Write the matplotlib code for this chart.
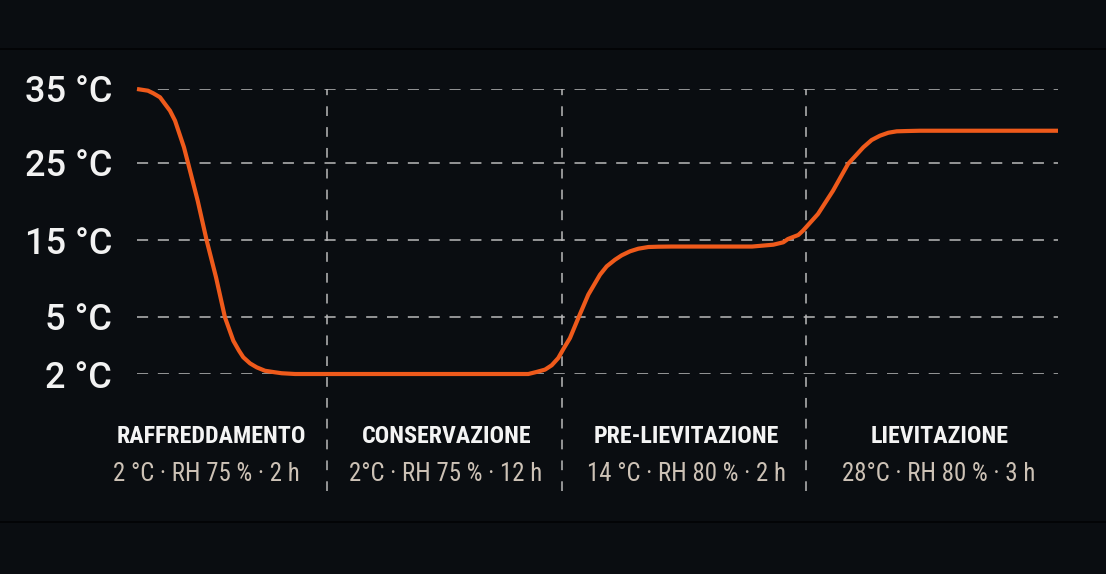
import numpy as np
import matplotlib
matplotlib.use("Agg")
import matplotlib.pyplot as plt
from matplotlib.lines import Line2D
from matplotlib import font_manager as fm

# ---------------- data ----------------
tick_temps = [2, 5, 15, 25, 35]
tick_labels = ["2 °C", "5 °C", "15 °C", "25 °C", "35 °C"]
# visual position of each tick on the (non-linear) temperature axis
tick_pos = [0, 57, 134, 211, 285]

# curve (x = % of timeline, y = °C)
curve_x = [0.0, 1.19, 1.77, 2.50, 3.04, 3.58, 4.13, 5.10, 5.57, 6.59, 7.57,
           8.58, 9.55, 10.46, 11.07, 11.54, 12.27, 13.00, 13.90, 14.98,
           15.71, 17.16,
           42.49, 43.40, 44.30, 45.03, 45.74, 46.29, 47.01, 47.92, 49.00,
           50.27, 51.00, 51.90, 52.63, 53.53, 54.43, 55.52, 56.60, 58.06,
           66.78, 69.09, 70.17, 70.68, 71.80, 72.31, 73.94, 75.57, 77.20,
           78.86, 79.77, 80.67, 81.58, 82.49, 83.57, 85.02, 100.0]
curve_t = [35.0, 34.77, 34.42, 33.88, 32.97, 32.07, 30.72, 27.12, 24.87,
           20.10, 14.91, 10.16, 4.98, 3.75, 3.23, 2.88, 2.56, 2.35, 2.17,
           2.09, 2.04, 2.0,
           2.0, 2.11, 2.23, 2.46, 2.84, 3.31, 3.89, 4.95, 7.90,
           10.49, 11.58, 12.44, 13.01, 13.53, 13.87, 14.09, 14.13, 14.15,
           14.15, 14.39, 14.70, 15.13, 15.65, 16.21, 18.38, 21.40, 24.87,
           27.12, 28.11, 28.69, 29.09, 29.28, 29.32, 29.36, 29.36]

phase_bounds = [20.63, 46.15, 72.64]
phase_names = ["RAFFREDDAMENTO", "CONSERVAZIONE", "PRE-LIEVITAZIONE", "LIEVITAZIONE"]
phase_info = ["2 °C · RH 75 % · 2 h", "2°C · RH 75 % · 12 h",
              "14 °C · RH 80 % · 2 h", "28°C · RH 80 % · 3 h"]
title_x = [8.09, 33.66, 59.66, 87.19]
info_x = [7.55, 33.55, 59.66, 87.02]

# ---------------- style ----------------
BG = "#0a0d11"
ORANGE = "#ef5a1b"
GRID = "#b9b9b9"
plt.rcParams["lines.scale_dashes"] = False


def pick_font(bold):
    prefs = ["Liberation Sans Narrow", "Roboto Condensed", "Open Sans Condensed"]
    for name in prefs:
        for f in fm.fontManager.ttflist:
            if f.name == name:
                w = f.weight if isinstance(f.weight, int) else (700 if "bold" in str(f.weight).lower() else 400)
                if (w >= 600) == bold and f.style == "normal":
                    return fm.FontProperties(fname=f.fname)
    return fm.FontProperties(family=["Roboto", "DejaVu Sans"],
                             weight="bold" if bold else "normal")


W, H = 1106, 574
fig = plt.figure(figsize=(W / 100, H / 100), dpi=100, facecolor=BG)

left, right = 137 / W, 1058 / W
top, bottom = 1 - 89 / H, 1 - 374 / H
ax = fig.add_axes([left, bottom, right - left, top - bottom])
ax.set_facecolor(BG)


def fwd(t):
    return np.interp(t, tick_temps, tick_pos)


def inv(p):
    return np.interp(p, tick_pos, tick_temps)


ax.set_yscale("function", functions=(fwd, inv))
ax.set_ylim(2, 35)
ax.set_xlim(0, 100)

for s in ax.spines.values():
    s.set_visible(False)

ax.set_yticks(tick_temps)
ax.set_yticklabels(tick_labels)
ax.set_xticks([])
ax.tick_params(axis="y", length=0, pad=18, labelsize=26, labelcolor="#f2f2f2")
for lab in ax.get_yticklabels():
    lab.set_family(["Roboto", "DejaVu Sans"])
    lab.set_fontweight("medium")

# horizontal grid
for t in tick_temps:
    ax.axhline(t, color=GRID, lw=1.3, dashes=(8, 7), alpha=0.85, zorder=1)

# vertical phase separators (extend below into label zone)
for b in phase_bounds:
    ax.axvline(b, ymin=-0.41, ymax=1.0, color=GRID, lw=1.3, dashes=(7, 8),
               alpha=0.85, clip_on=False, zorder=1)

# curve
ax.plot(curve_x, curve_t, color=ORANGE, lw=3.0, solid_capstyle="butt",
        solid_joinstyle="round", clip_on=False, zorder=3)

# phase labels
fp_bold = pick_font(True)
fp_reg = pick_font(False)
tx = ax.get_xaxis_transform()
titles = []
for x, name in zip(title_x, phase_names):
    titles.append(ax.text(x, -0.221, name, transform=tx, ha="center",
                          va="center", fontproperties=fp_bold.copy(),
                          color="#f4f4f4"))
infos = []
for x, info in zip(info_x, phase_info):
    infos.append(ax.text(x, -0.351, info, transform=tx, ha="center",
                         va="center", fontproperties=fp_reg.copy(),
                         color="#cdc2b6"))

# fit font sizes so the first label of each row has the reference width
renderer = fig.canvas.get_renderer()
for group, target in ((titles, 189.0), (infos, 187.0)):
    group[0].set_fontsize(16)
    w = group[0].get_window_extent(renderer).width
    size = 16 * target / w
    size = min(size, 18.0)
    for t in group:
        t.set_fontsize(size)

# thin frame lines top/bottom
fig.add_artist(Line2D([0, 1], [1 - 49 / H] * 2, transform=fig.transFigure,
                      color="#020304", lw=1.2))
fig.add_artist(Line2D([0, 1], [1 - 522 / H] * 2, transform=fig.transFigure,
                      color="#020304", lw=1.2))

fig.savefig("out.png", dpi=100, facecolor=BG)
